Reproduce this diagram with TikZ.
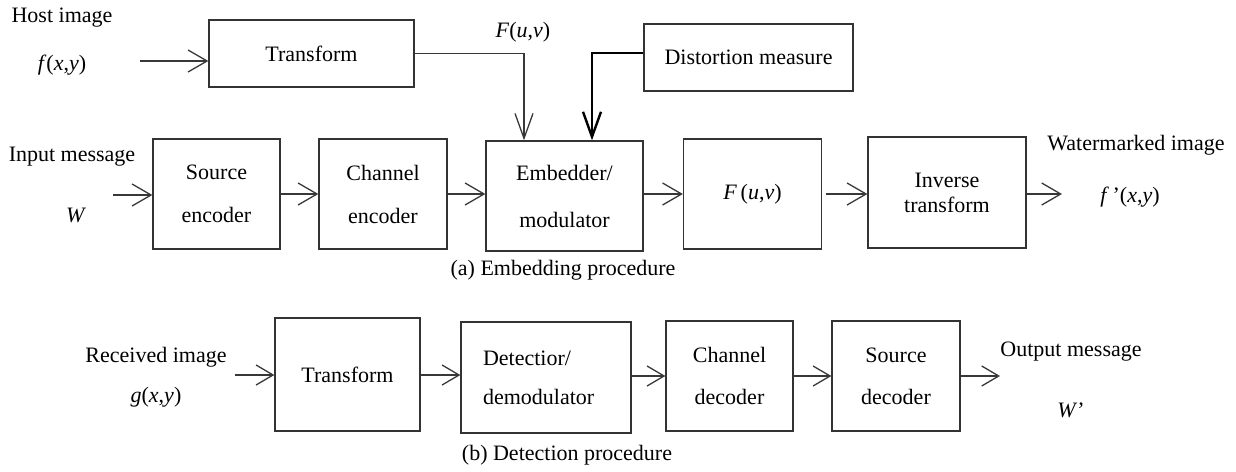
\documentclass[tikz,border=0pt]{standalone}
\usepackage{fontspec}
\setmainfont{Liberation Serif}
\usetikzlibrary{arrows.meta,calc}
\tikzset{
  blk/.style={draw=black!80, line width=1.3pt, inner sep=0pt, align=center,
              font=\fontsize{22}{26}\selectfont},
  lbl/.style={inner sep=0pt, font=\fontsize{22}{26}\selectfont},
  arr/.style={draw=black!78, line width=1.3pt, -{Straight Barb[length=19pt,width=22pt,line width=1.3pt]}},
  arrs/.style={draw=black!78, line width=1.3pt, -{Straight Barb[length=17pt,width=20pt,line width=1.3pt]}},
  arrv/.style={draw=black!78, line width=1.3pt, -{Straight Barb[length=25pt,width=18pt,line width=1.3pt]}},
  arrk/.style={draw=black, line width=2.4pt, -{Straight Barb[length=25pt,width=18pt,line width=2.4pt]}}
}
\begin{document}
\begin{tikzpicture}[x=1pt,y=-1pt]
\useasboundingbox (0,0) rectangle (1236,471);

% ---- (a) embedding ----
\node[blk, minimum width=205, minimum height=67] (tr) at (311.5,53.5) {Transform};
\node[blk, minimum width=209, minimum height=67] (dm) at (748.5,57.5) {Distortion measure};
\node[blk, minimum width=127, minimum height=110] (se) at (216.5,194) {Source\\[17pt]encoder};
\node[blk, minimum width=128, minimum height=110] (ce) at (383,194) {Channel\\[17pt]encoder};
\node[blk, minimum width=157, minimum height=110] (em) at (564.5,196) {Embedder/\\[21pt]modulator};
\node[blk, minimum width=138, minimum height=110] (fu) at (752.5,194) {\textit{F}\,(\textit{u},\textit{v})};
\node[blk, minimum width=158, minimum height=111] (it) at (947,192.5) {Inverse\\[-1pt]transform};

\node[lbl] (hi) at (62,18) {Host image};
\node[lbl] (hf) at (62,65) {\textit{f}(\textit{x},\textit{y})};
\node[lbl] (fl) at (523,32) {\textit{F}(\textit{u},\textit{v})};
\node[lbl] (im) at (72,157) {Input message};
\node[lbl] (iw) at (76,215) {\textit{W}};
\node[lbl] (wi) at (1136,145) {Watermarked image};
\node[lbl] (wf) at (1130,197) {\textit{f}\,'(\textit{x},\textit{y})};
\node[lbl] (ca) at (563,270) {(a) Embedding procedure};

\coordinate (hin) at (140,61);
\coordinate (win) at (113,195);
\coordinate (fx) at (524,0);
\coordinate (dx) at (592,0);
\coordinate (wout) at (1062,0);

\draw[arr] (hin) -- (hin -| tr.west);
\draw[arrv] (tr.east) -| (fx |- em.north);
\draw[arrk] ($(dm.west)+(0,-4.5)$) -| (dx |- em.north);
\draw[arr] (win) -- (win -| se.west);
\draw[arr] (se) -- (ce);
\draw[arr] (ce.east) -- (ce.east -| em.west);
\draw[arr] (em.east |- fu.west) -- (fu.west);
\draw[arr] ($(fu.east)+(4,0)$) -- (fu.east -| it.west);
\draw[arr] (it.east |- fu.east) -- (wout |- fu.east);

% ---- (b) detection ----
\node[blk, minimum width=145, minimum height=113] (t2) at (347.5,374.5) {Transform};
\node[blk, minimum width=170, minimum height=111, text width=126, align=left] (dd) at (546,377.5) {Detectior/\\[13pt]demodulator};
\node[blk, minimum width=127, minimum height=110] (cd) at (729.5,376) {Channel\\[16pt]decoder};
\node[blk, minimum width=128, minimum height=110] (sd) at (896,376) {Source\\[16pt]decoder};

\node[lbl] (ri) at (156,357) {Received image};
\node[lbl] (rg) at (156,397) {\textit{g}(\textit{x},\textit{y})};
\node[lbl] (om) at (1071,352) {Output message};
\node[lbl] (ow) at (1071,410) {\textit{W}'};
\node[lbl] (cb) at (567,455) {(b) Detection procedure};

\coordinate (rin) at (235,375);
\coordinate (rout) at (1000,0);

\draw[arrs] (rin) -- (rin -| t2.west);
\draw[arrs] (t2.east |- rin) -- (dd.west |- rin);
\draw[arrs] (dd.east |- cd.west) -- (cd.west);
\draw[arrs] (cd) -- (sd);
\draw[arrs] (sd.east) -- (rout |- sd.east);
\end{tikzpicture}
\end{document}
